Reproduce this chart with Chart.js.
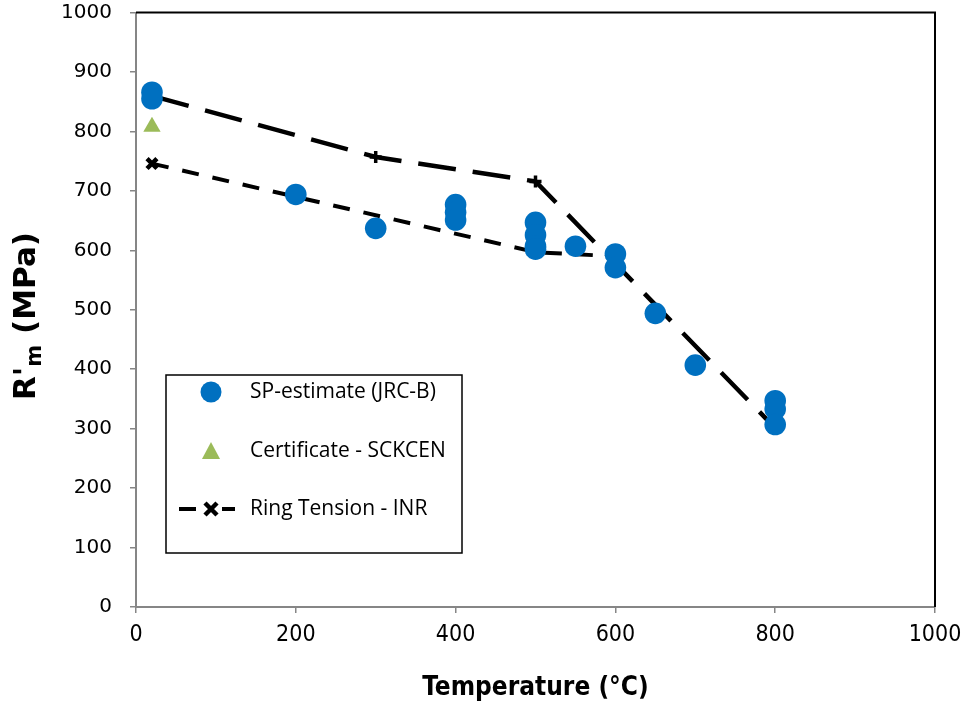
<!DOCTYPE html>
<html>
<head>
<meta charset="utf-8">
<script src="https://cdn.jsdelivr.net/npm/chart.js@4.4.1/dist/chart.umd.min.js"></script>
<style>
  html, body { margin: 0; padding: 0; background: #fff; }
  #c { display: block; }
</style>
</head>
<body>
<canvas id="c" width="966" height="708"></canvas>
<script>
// SP-estimate (JRC-B)
const spTemp = [20, 20, 200, 300, 400, 400, 400, 500, 500, 500, 500, 550, 600, 600, 650, 700, 800, 800, 800];
const spRm = [866, 855, 694, 637, 677, 664, 651, 647, 626, 607, 602, 607, 594, 571, 494, 407, 347, 333, 307];

// Certificate - SCKCEN
const certTemp = [20];
const certRm = [808];

// Ring Tension - INR
const ringTemp = [20, 500, 600];
const ringRm = [746, 597, 590];

// upper dashed curve (no legend entry)
const upperTemp = [20, 300, 500, 800];
const upperRm = [860, 757, 716, 301];

const xTicks = [0, 200, 400, 600, 800, 1000];
const yTicks = [0, 100, 200, 300, 400, 500, 600, 700, 800, 900, 1000];

const BLUE = '#0070C0';
const GREEN = '#9BBB59';
const AXIS = '#868686';
const FONT = "'Open Sans', 'Noto Sans', sans-serif";
const COND = "'DejaVu Sans Condensed', 'DejaVu Sans', sans-serif";

const pts = (xs, ys) => xs.map((x, i) => ({ x, y: ys[i] }));

const frame = {
  id: 'frame',
  afterDatasetsDraw(chart) {
    const { ctx, chartArea: a } = chart;
    ctx.save();
    ctx.strokeStyle = '#000';
    ctx.lineWidth = 2;
    ctx.beginPath();
    ctx.moveTo(a.left, a.top);
    ctx.lineTo(a.right, a.top);
    ctx.lineTo(a.right, a.bottom);
    ctx.stroke();
    ctx.restore();
  },
  afterDraw(chart) {
    const ctx = chart.ctx;
    // y axis title with subscript
    ctx.save();
    ctx.translate(27, 316);
    ctx.rotate(-Math.PI / 2);
    ctx.fillStyle = '#000';
    ctx.textBaseline = 'middle';
    const big = "bold 31px 'DejaVu Sans', sans-serif";
    const small = "bold 21px 'DejaVu Sans', sans-serif";
    const parts = [["R'", big, 0], ['m', small, 9], [' (MPa)', big, 0]];
    let w = 0;
    parts.forEach(p => { ctx.font = p[1]; w += ctx.measureText(p[0]).width; });
    let x = -w / 2;
    parts.forEach(p => {
      ctx.font = p[1];
      ctx.fillText(p[0], x, p[2]);
      x += ctx.measureText(p[0]).width;
    });
    ctx.restore();

    // legend box
    ctx.save();
    ctx.strokeStyle = '#000';
    ctx.lineWidth = 1.5;
    ctx.strokeRect(166, 375, 296, 178);
    ctx.font = "21px " + FONT;
    ctx.fillStyle = '#000';
    ctx.textBaseline = 'middle';
    const rows = [392, 451, 509];
    const labels = chart.data.datasets.slice(0, 3).map(d => d.label);
    labels.forEach((t, i) => ctx.fillText(t, 250, rows[i]));
    // markers
    ctx.fillStyle = BLUE;
    ctx.beginPath();
    ctx.arc(211, rows[0], 10.5, 0, Math.PI * 2);
    ctx.fill();
    ctx.fillStyle = GREEN;
    ctx.beginPath();
    ctx.moveTo(211, rows[1] - 9);
    ctx.lineTo(220, rows[1] + 8);
    ctx.lineTo(202, rows[1] + 8);
    ctx.closePath();
    ctx.fill();
    ctx.strokeStyle = '#000';
    ctx.lineWidth = 4;
    ctx.beginPath();
    ctx.moveTo(179, rows[2]);
    ctx.lineTo(196, rows[2]);
    ctx.moveTo(222, rows[2]);
    ctx.lineTo(235, rows[2]);
    ctx.stroke();
    ctx.lineWidth = 4.5;
    ctx.beginPath();
    ctx.moveTo(205, rows[2] - 6);
    ctx.lineTo(217, rows[2] + 6);
    ctx.moveTo(217, rows[2] - 6);
    ctx.lineTo(205, rows[2] + 6);
    ctx.stroke();
    ctx.restore();
  }
};

new Chart(document.getElementById('c'), {
  type: 'scatter',
  data: {
    datasets: [
      {
        label: 'SP-estimate (JRC-B)',
        data: pts(spTemp, spRm),
        pointStyle: 'circle',
        pointRadius: 10.8,
        pointBackgroundColor: BLUE,
        pointBorderWidth: 0,
        showLine: false,
        order: 0
      },
      {
        label: 'Certificate - SCKCEN',
        data: pts(certTemp, certRm),
        pointStyle: 'triangle',
        pointRadius: 10,
        pointBackgroundColor: GREEN,
        pointBorderWidth: 0,
        showLine: false,
        order: 1
      },
      {
        label: 'Ring Tension - INR',
        data: pts(ringTemp, ringRm),
        showLine: true,
        borderColor: '#000',
        borderWidth: 4,
        borderDash: [17, 14],
        pointStyle: 'crossRot',
        pointRadius: 7,
        pointBorderWidth: 4.5,
        pointBorderColor: '#000',
        order: 2
      },
      {
        label: '',
        data: pts(upperTemp, upperRm),
        showLine: true,
        borderColor: '#000',
        borderWidth: 4.5,
        borderDash: [38, 17],
        pointStyle: 'cross',
        pointRadius: 6,
        pointBorderWidth: 3.5,
        pointBorderColor: '#000',
        order: 3
      }
    ]
  },
  options: {
    responsive: false,
    animation: false,
    layout: { padding: { top: 12.6, right: 31, left: 0, bottom: 0 } },
    plugins: { legend: { display: false }, tooltip: { enabled: false } },
    scales: {
      x: {
        type: 'linear',
        min: 0,
        max: 1000,
        afterBuildTicks: s => { s.ticks = xTicks.map(v => ({ value: v })); },
        ticks: { color: '#000', font: { family: COND, size: 23 }, padding: 8, maxRotation: 0, callback: v => String(v) },
        grid: { drawOnChartArea: false, drawTicks: true, tickLength: 6, color: AXIS, lineWidth: 1.5 },
        border: { color: AXIS, width: 2 },
        title: { display: true, text: 'Temperature (°C)', color: '#000', font: { family: COND, size: 26, weight: 'bold' }, padding: { top: 8 } },
        afterFit: s => { s.height = 101; s.paddingLeft = 0; s.paddingRight = 0; }
      },
      y: {
        type: 'linear',
        min: 0,
        max: 1000,
        afterBuildTicks: s => { s.ticks = yTicks.map(v => ({ value: v })); },
        ticks: { color: '#000', font: { family: "'DejaVu Sans', sans-serif", size: 20 }, padding: 18, callback: v => String(v) },
        grid: { drawOnChartArea: false, drawTicks: true, tickLength: 6, color: AXIS, lineWidth: 1.5 },
        border: { color: AXIS, width: 2 },
        afterFit: s => { s.width = 136; s.paddingTop = 0; s.paddingBottom = 0; }
      }
    }
  },
  plugins: [frame]
});
</script>
</body>
</html>
